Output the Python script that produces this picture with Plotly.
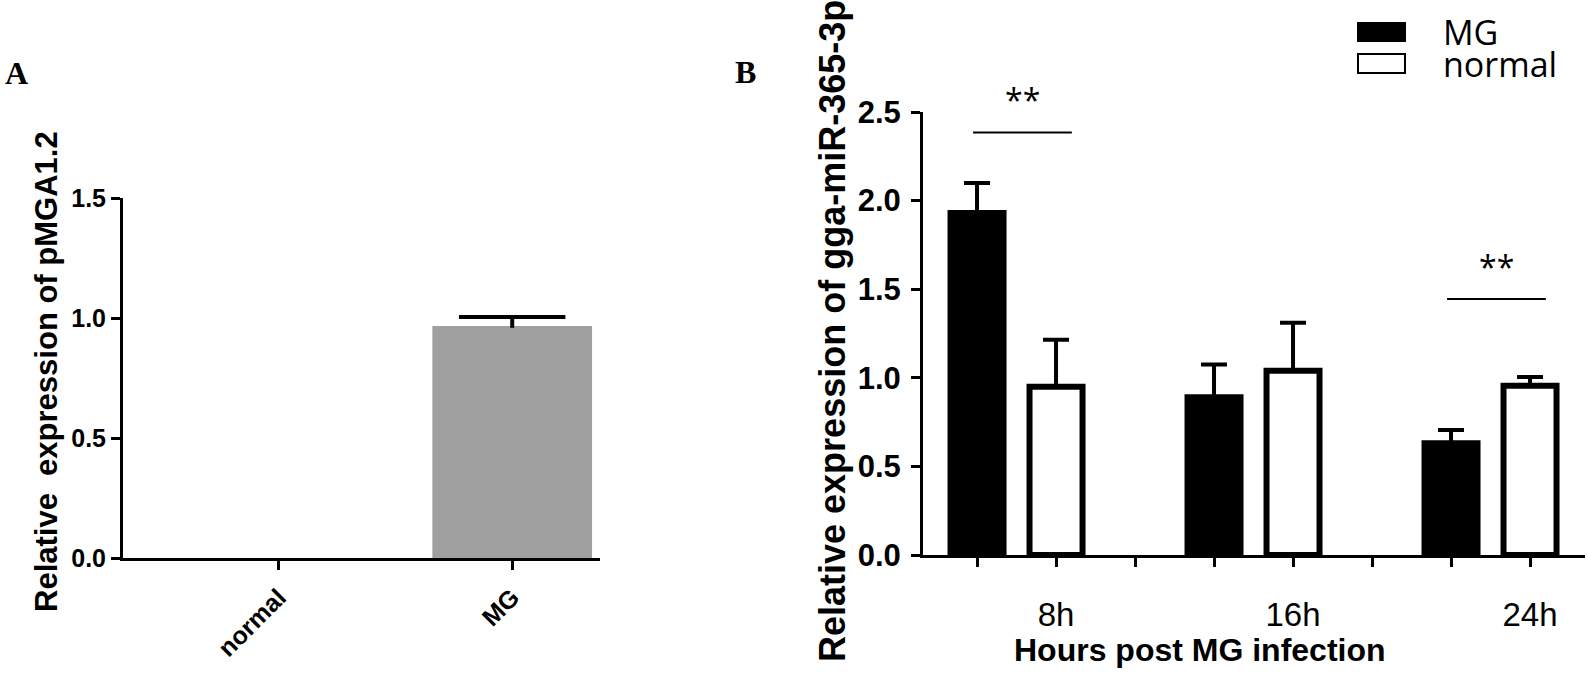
import plotly.graph_objects as go

# ---------------- data ----------------
# Panel A
a_categories = ["normal", "MG"]
a_values = [0.0, 0.967]
a_errors = [None, 0.037]
a_yticks = [0.0, 0.5, 1.0, 1.5]

# Panel B
b_timepoints = ["8h", "16h", "24h"]
b_mg = [1.93, 0.89, 0.63]
b_mg_err = [0.17, 0.185, 0.075]
b_normal = [0.95, 1.04, 0.955]
b_normal_err = [0.265, 0.27, 0.05]
b_yticks = [0.0, 0.5, 1.0, 1.5, 2.0, 2.5]
sig_labels = ["**", "**"]
sig_groups = [0, 2]          # which timepoint each significance mark belongs to
sig_line_y = [2.385, 1.445]
sig_text_y = [2.57, 1.63]

# ---------------- layout helpers ----------------
W, H = 1588, 674
def px(x):
    return x / W
def py(y):
    return 1 - y / H

FONT = "Arial, Liberation Sans, sans-serif"

fig = go.Figure()

# ---------------- Panel A ----------------
a_x = list(range(len(a_categories)))
fig.add_trace(go.Bar(
    x=a_x, y=a_values, width=0.684,
    marker=dict(color="#9f9f9f", line=dict(width=0)),
    xaxis="x", yaxis="y", showlegend=False, hoverinfo="skip",
))
# upward-only error bar: cap marker at value+err, stem back down to the bar top
a_ex = [x for x, e in zip(a_x, a_errors) if e is not None]
a_ey = [v + e for v, e in zip(a_values, a_errors) if e is not None]
a_ee = [e for e in a_errors if e is not None]
fig.add_trace(go.Scatter(
    x=a_ex, y=a_ey, mode="markers",
    marker=dict(symbol="line-ew", size=76, color="black",
                line=dict(color="black", width=4)),
    error_y=dict(type="data", symmetric=False, array=[0] * len(a_ee),
                 arrayminus=[e + 0.008 for e in a_ee], color="black", thickness=4, width=0),
    xaxis="x", yaxis="y", showlegend=False, hoverinfo="skip", cliponaxis=False,
))

# ---------------- Panel B ----------------
group_step = 3
mg_pos = [group_step * i for i in range(len(b_timepoints))]
nm_pos = [group_step * i + 1 for i in range(len(b_timepoints))]
bw = 0.671
fig.add_trace(go.Bar(
    name="MG", x=mg_pos, y=b_mg, width=bw,
    marker=dict(color="black", line=dict(color="black", width=6)),
    error_y=dict(type="data", symmetric=False, array=b_mg_err,
                 arrayminus=[0] * 3, color="black", thickness=4, width=13),
    xaxis="x2", yaxis="y2", showlegend=False,
))
fig.add_trace(go.Bar(
    name="normal", x=nm_pos, y=b_normal, width=bw,
    marker=dict(color="white", line=dict(color="black", width=6)),
    error_y=dict(type="data", symmetric=False, array=b_normal_err,
                 arrayminus=[0] * 3, color="black", thickness=4, width=13),
    xaxis="x2", yaxis="y2", showlegend=False,
))

b_tickvals = list(range(group_step * len(b_timepoints) - 1))
b_ticktext = []
for v in b_tickvals:
    if v in nm_pos:
        b_ticktext.append(b_timepoints[nm_pos.index(v)])
    else:
        b_ticktext.append("")

shapes = []
annotations = []
# significance marks
for lab, g, ly, ty in zip(sig_labels, sig_groups, sig_line_y, sig_text_y):
    x0 = mg_pos[g] - 0.05
    x1 = nm_pos[g] + 0.2
    shapes.append(dict(type="line", xref="x2", yref="y2", x0=x0, x1=x1,
                       y0=ly, y1=ly, line=dict(color="black", width=2)))
    annotations.append(dict(text=lab, xref="x2", yref="y2 domain",
                            x=(x0 + x1) / 2, y=ty / 2.5, showarrow=False,
                            font=dict(family="Open Sans, sans-serif", size=32, color="black"),
                            xanchor="center", yanchor="middle"))

# manual legend
leg_items = [("MG", "black"), ("normal", "white")]
leg_y = [(23, 41), (54, 73)]
for (name, col), (y0, y1) in zip(leg_items, leg_y):
    shapes.append(dict(type="rect", xref="paper", yref="paper",
                       x0=px(1358), x1=px(1405), y0=py(y1), y1=py(y0),
                       fillcolor=col, line=dict(color="black", width=2)))
    annotations.append(dict(text=name, xref="paper", yref="paper",
                            x=px(1441), y=py((y0 + y1) / 2), showarrow=False,
                            xanchor="left", yanchor="middle",
                            font=dict(family="Open Sans, sans-serif", size=34, color="black")))

# panel letters
annotations.append(dict(text="<b>A</b>", xref="paper", yref="paper", x=px(16), y=py(73),
                        showarrow=False, xanchor="center", yanchor="middle",
                        font=dict(family="Liberation Serif, Times New Roman, serif", size=32, color="black")))
annotations.append(dict(text="<b>B</b>", xref="paper", yref="paper", x=px(745), y=py(72),
                        showarrow=False, xanchor="center", yanchor="middle",
                        font=dict(family="Liberation Serif, Times New Roman, serif", size=32, color="black")))

# axis titles
annotations.append(dict(text="<b>Relative  expression of pMGA1.2</b>", xref="paper", yref="paper",
                        x=px(46), y=py(372), textangle=-90, showarrow=False,
                        xanchor="center", yanchor="middle",
                        font=dict(family=FONT, size=31, color="black")))
annotations.append(dict(text="<b>Relative expression of gga-miR-365-3p</b>", xref="paper", yref="paper",
                        x=px(832), y=py(331), textangle=-90, showarrow=False,
                        xanchor="center", yanchor="middle",
                        font=dict(family=FONT, size=36, color="black")))
annotations.append(dict(text="<b>Hours post MG infection</b>", xref="paper", yref="paper",
                        x=px(1200), y=py(650), showarrow=False,
                        xanchor="center", yanchor="middle",
                        font=dict(family=FONT, size=32, color="black")))

axis_common = dict(showgrid=False, zeroline=False, showline=True, linecolor="black",
                   linewidth=3, ticks="outside", tickcolor="black", tickwidth=3, ticklen=9,
                   automargin=False)

fig.update_layout(
    width=W, height=H, autosize=False,
    margin=dict(l=0, r=0, t=0, b=0, pad=0),
    paper_bgcolor="white", plot_bgcolor="white",
    barmode="overlay",
    xaxis=dict(domain=[px(123), px(600)], range=[-0.667, 1.376],
               tickvals=a_x, ticktext=[f"<b>{c}</b>" for c in a_categories], tickangle=-45,
               tickfont=dict(family=FONT, size=25, color="black"), anchor="y",
               ticklabelstandoff=3, **axis_common),
    yaxis=dict(domain=[py(558), py(198)], range=[0, 1.5], tickvals=a_yticks,
               ticktext=[f"<b>{v:.1f}</b>" for v in a_yticks],
               tickfont=dict(family=FONT, size=25, color="black"), anchor="x",
               ticklabelstandoff=0, **axis_common),
    xaxis2=dict(domain=[px(923), px(1585)], range=[-0.684, 7.696],
                tickvals=b_tickvals, ticktext=b_ticktext,
                tickfont=dict(family=FONT, size=33, color="black"), anchor="y2",
                ticklabelstandoff=19, **axis_common),
    yaxis2=dict(domain=[py(555), py(112)], range=[0, 2.5], tickvals=b_yticks,
                ticktext=[f"<b>{v:.1f}</b>" for v in b_yticks],
                tickfont=dict(family=FONT, size=31, color="black"), anchor="x2",
                ticklabelstandoff=4, **axis_common),
    shapes=shapes, annotations=annotations,
)

fig.write_html("out.html", config={"displayModeBar": False},
               post_script="document.body.style.margin='0';document.body.style.overflow='hidden';")
